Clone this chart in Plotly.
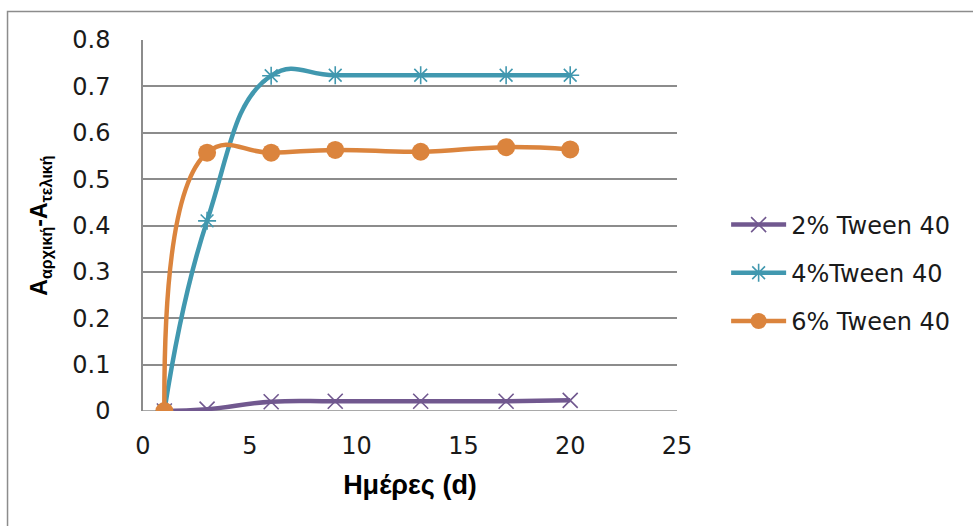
import plotly.graph_objects as go

# Days of measurement
days = [1, 3, 6, 9, 13, 17, 20]

# Absorbance difference (initial - final) per Tween 40 concentration
tween_2 = [0.0, 0.004, 0.020, 0.021, 0.021, 0.021, 0.023]
tween_4 = [0.0, 0.410, 0.723, 0.724, 0.724, 0.724, 0.724]
tween_6 = [0.0, 0.557, 0.557, 0.563, 0.559, 0.569, 0.564]

series_names = ["2% Tween 40", "4%Tween 40", "6% Tween 40"]
series_colors = ["#71588F", "#4198AF", "#DB843D"]

x_ticks = [0, 5, 10, 15, 20, 25]
y_ticks = [0, 0.1, 0.2, 0.3, 0.4, 0.5, 0.6, 0.7, 0.8]

tick_font = dict(family="DejaVu Sans, sans-serif", size=24, color="#1a1a1a")
grid_col = "#8c8c8c"

fig = go.Figure()

marker_styles = [
    dict(symbol="x-thin-open", size=15, line=dict(width=1.6)),
    dict(symbol="asterisk-open", size=15, line=dict(width=1.6)),
    dict(symbol="circle", size=18, line=dict(width=0)),
]

for i, vals in enumerate([tween_2, tween_4, tween_6]):
    m = dict(marker_styles[i])
    m["color"] = series_colors[i]
    m["line"] = dict(m["line"], color=series_colors[i])
    fig.add_trace(go.Scatter(
        x=days, y=vals, name=series_names[i],
        mode="lines+markers",
        line=dict(color=series_colors[i], width=4.5, shape="spline", smoothing=1.3),
        marker=m,
        legendgroup=f"g{i}",
    ))

# Outer chart frame
fig.add_shape(type="rect", xref="paper", yref="paper",
              x0=-0.2537, x1=1.7, y0=-0.5, y1=1.0768,
              line=dict(color="#8c8c8c", width=1.5), fillcolor="rgba(0,0,0,0)",
              layer="below")

fig.update_layout(
    width=973, height=526,
    margin=dict(l=143, r=296, t=40, b=115),
    paper_bgcolor="white", plot_bgcolor="white",
    showlegend=True,
    legend=dict(
        x=1.092, y=0.372, xanchor="left", yanchor="middle",
        font=dict(family="DejaVu Sans, sans-serif", size=24, color="#1a1a1a"),
        tracegroupgap=14, itemwidth=55,
        bgcolor="rgba(0,0,0,0)",
    ),
    xaxis=dict(
        range=[0, 25], tickvals=x_ticks, ticktext=[str(v) for v in x_ticks],
        showgrid=False, zeroline=False, showline=False,
        ticks="", ticklabelstandoff=18, tickfont=tick_font,
        title=dict(text="<b>Ημέρες (d)</b>",
                   font=dict(family="Liberation Sans, Arial, sans-serif", size=27, color="#000000"),
                   standoff=16),
    ),
    yaxis=dict(
        range=[0, 0.8], tickvals=y_ticks,
        ticktext=["0", "0.1", "0.2", "0.3", "0.4", "0.5", "0.6", "0.7", "0.8"],
        showgrid=True, gridcolor=grid_col, gridwidth=1.5,
        zeroline=False, showline=True, linecolor=grid_col, linewidth=1.5,
        ticks="", ticklabelstandoff=26, tickfont=tick_font,
        title=dict(text="<b>A<sub>αρχική</sub>-A<sub>τελική</sub></b>",
                   font=dict(family="Liberation Sans, Arial, sans-serif", size=23, color="#000000"),
                   standoff=18),
    ),
)

# Baseline at y = 0
fig.add_shape(type="line", xref="paper", yref="y", x0=0, x1=1, y0=0, y1=0,
              line=dict(color=grid_col, width=1.5), layer="below")

fig.write_html("out.html")
